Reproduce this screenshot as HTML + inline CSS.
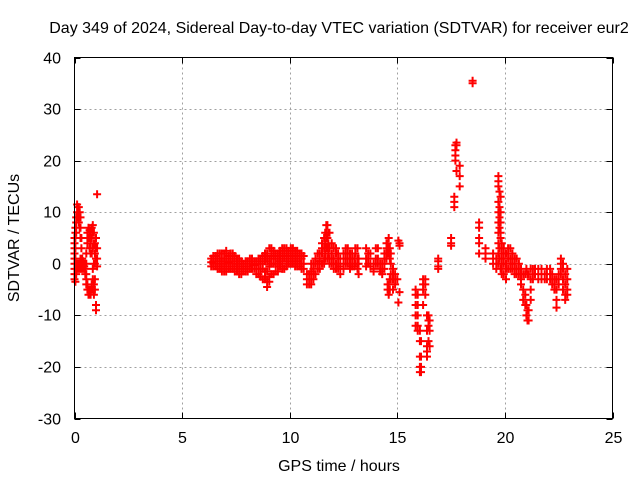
<!DOCTYPE html>
<html><head><meta charset="utf-8"><style>
body{margin:0;background:#fff}
svg text{font-family:"Liberation Sans",sans-serif;font-size:16px;fill:#000}
</style></head><body>
<svg id="chart" width="640" height="480" xmlns="http://www.w3.org/2000/svg">
<text x="339" y="33" text-anchor="middle">Day 349 of 2024, Sidereal Day-to-day VTEC variation (SDTVAR) for receiver eur2</text>
<text x="339" y="471" text-anchor="middle">GPS time / hours</text>
<text transform="translate(19,238) rotate(-90)" text-anchor="middle">SDTVAR / TECUs</text>
<g id="grid"></g>
<g id="ticks"></g>
<g id="pts"></g>
<rect x="74.5" y="57.5" width="538" height="361" fill="none" stroke="#000" stroke-width="1"/>
</svg>
<script>
const xTicks=[0,5,10,15,20,25];
const yTicks=[-30,-20,-10,0,10,20,30,40];
// groups: [hour, value, value, ...]
const groups=[
[0.0,-3,-2,-1,0,1,2,3,4,5],[0.04,-3.5,-2,-1,0,1,3,5,6,7],[0.08,-2,-1,0,8,6,7,9],[0.12,10,11.5,9,-1,0],[0.16,11,10,9,-1,0],[0.2,11,10,8,0,-1],[0.24,10,9,7,0,-1],[0.28,9,7,5,1,-1,0],[0.32,5,3,1,-1,0],[0.36,0,-1,1],[0.4,-1,0.5,0],[0.45,-0.5,-1,0],[0.5,-1,-2,0],[0.55,-2,-4,0,2,-3],[0.6,-5,4,6,5,-4],[0.65,-6,7,5,-5],[0.7,-6,6.5,5,3,-5],[0.75,-5,6,4,2,-6],[0.8,-4,7,5,2,-5],[0.85,-3,-5,7.5,6,-1,3],[0.9,-6,6,4,0,-4],[0.95,4,2,0,-5,-3],[1.0,3,5,-8,-9,1],[1.05,13.5,-0.5,1,3],
[6.35,1,0.3,-0.5],[6.45,1.5,0.5,-0.5,0],[6.55,1.5,0.5,-0.5,1],[6.65,2,1,0,-1],[6.75,2,0.5,-1,-0.5],[6.85,2,1,0,-1.5],[6.95,2,0.5,-0.5,-1.5],[7.05,2.5,1,0,-1.5],[7.15,1.5,0.3,-1,-0.5],[7.25,2,1,0,-1],[7.35,2,0.5,-0.5,-1],[7.45,1.5,0.5,0,-1.5],[7.55,1,0,-0.5,-1.5],[7.65,1,0,-1,-2],[7.75,0.5,-0.5,-1,-2],[7.85,0,-0.5,-1,-1.5],[7.95,0.5,0,-1,-1.5],[8.05,0.5,0,-0.5,-1.5],[8.15,1,0.5,0,-1],[8.25,1,0.5,0,-1],[8.35,0.5,0,-0.3,-1],[8.45,0.5,0,-1,-2],[8.55,1,0,-1,-2],[8.65,1,0,-1,-2.5],[8.75,1.5,0.5,-1,-3],[8.85,2,0.5,-1.5,-3],[8.95,2,0.5,-1.5,-3.5,-4.5],[9.05,3,1,-0.5,-2.5,-3.5],[9.15,3,1.5,0,-2],[9.25,2.5,1,0,-2],[9.35,2,1,0,-1.5],[9.45,2,1,0,-1.5],[9.55,2.5,1.5,0.5,-0.5],[9.65,3,1.5,0,-1],[9.75,3,2,1,-1],[9.85,3,2,1,-0.5],[9.95,2.5,1.5,0.5,0],[10.05,3,2,1,0],[10.15,3,2,1,0],[10.25,2.5,1.5,0.5,-0.5],[10.35,2.5,1.5,0.5,-0.5],[10.45,2,1,0,-0.5],[10.55,2,1,0,-1],[10.65,1.5,0,-1],
[10.8,-3,-4,-2],[10.9,-2,-4,-3],[11.0,0,-3,-1.5,-4],[11.1,0,-2,-1,-3],[11.2,1,-2,0],[11.3,2,0,-1],[11.4,2,-1,0.5,1],[11.5,4,2,0,3],[11.6,5,3,1,0],[11.65,6,4,1,2],[11.7,7.5,6,5,3],[11.75,7.5,5,3,1],[11.8,6,4,2],[11.85,6,3,1,0],[11.95,4,2,0,1],[12.05,3,1,-1,0],[12.15,3,2,0,-1],[12.25,2,0,-1,1],[12.35,1,-0.5,-2,0],
[12.5,2,0,-1,1],[12.6,3,1,0,2],[12.7,3,1,0,2],[12.8,2,0,-1,1],[12.9,2,1,-0.5],[13.0,1,-0.5,0],[13.05,3,2,0],[13.15,3,1,0,-1],[13.2,1,0,-2],
[13.55,3,1,-0.5],[13.65,2,1,0],[13.75,2,0,-0.5],[13.9,-1,0,-1.5],[14.0,3,1,0],[14.1,3,1,0],[14.2,-1,0,-1.5],[14.3,-2,-1,0],[14.4,2,0,-1,1],[14.5,4,2,1,3],[14.55,4,3,2,-4,-5],[14.6,5,3,2,-4,-5,-6],[14.65,3,1,-3,-5],[14.7,-3,-2,0,2],[14.8,-1,-5,-3,-2],[14.9,-3,-2,-4],
[15.0,-3],[15.05,4.5,-7.5],[15.1,3.5,4,-5.5],
[15.85,-5,-6,-8,-10,-12],[15.95,-6,-8,-10,-13,-12],[16.05,-15,-18,-20,-21,-13],[16.1,-15,-18,-20,-21],[16.2,-3,-5,-8,-4],[16.3,-4,-3,-6],[16.38,-10,-13,-16,-18,-17],[16.45,-10,-12,-15,-11],[16.5,-11,-16,-13],
[16.9,-0.5,-1,0.5,1],
[17.5,3.5,5,4],
[17.65,12,13,11],[17.7,22,23,21,20],[17.75,23.5,23,18],[17.9,19,17,15],
[18.5,35,35.5],
[18.8,8,7,5,4,2],[19.1,3,2,1],
[19.45,1,0,2],[19.6,1,-1,0],[19.7,17,16,15,12,10,8,6,4,2,0],[19.75,14,11,9,7,3,1],[19.8,13,10,8,6,5,-1],[19.85,4,3,2,1,0,-1,-2],[19.95,3,2,0,-2,1],
[20.05,-3,0,2,-1],[20.15,-1,1,3,2],[20.25,-1,1,3,0],[20.35,0,2,-1,1],[20.45,-1,1,0,-2],[20.55,-1,1,-2],[20.65,-2,-1,0],[20.75,-2,-1,-3,-4],[20.85,-5,-7,-2],[20.95,-6,-8,-2],[21.0,-8,-10,-1],[21.05,-9,-11,-2],[21.1,-11,-9,-2],[21.2,-7,-5,-1,-3],[21.3,-1,-2,-3],
[21.4,-1,-2],[21.55,-1,-2,-3],[21.7,-1,-2,-3],[21.85,-2,-3],[21.95,-2,-3,-1],[22.1,-2,-1,-3],[22.2,-3,-4,-2],[22.3,-3,-4,-5],[22.4,-7,-8.5,-3,-5],[22.5,-2,-4,-3],[22.6,0,1,-1,-2],[22.7,-1,-3,-5,0],[22.8,-6,-7,-2,-4],[22.9,-5,-3,-1,-6]
];
const X0=74.5,X1=612.5,Y0=418.5,Y1=57.5;
const sx=v=>X0+(v-0)/(25-0)*(X1-X0);
const sy=v=>Y0-(v+30)/(70)*(Y0-Y1);
const NS='http://www.w3.org/2000/svg';
const grid=document.getElementById('grid'),ticks=document.getElementById('ticks'),pts=document.getElementById('pts');
function mk(t,a,p){const e=document.createElementNS(NS,t);for(const k in a)e.setAttribute(k,a[k]);p.appendChild(e);return e;}
xTicks.forEach(t=>{const x=Math.round(sx(t))+0.5;
 if(t>0&&t<25){const g=mk('line',{x1:x,x2:x,y1:Y1,y2:Y0,stroke:'#a0a0a0','stroke-dasharray':'2,3'},grid);
 
 }
 const l=mk('text',{x:x,y:443,'text-anchor':'middle'},ticks);l.textContent=t;
 
 
 mk('line',{x1:x,x2:x,y1:Y0,y2:Y0-6,stroke:'#000'},ticks);mk('line',{x1:x,x2:x,y1:Y1,y2:Y1+6,stroke:'#000'},ticks);});
yTicks.forEach(t=>{const y=Math.round(sy(t))+0.5;
 if(t>-30&&t<40){const g=mk('line',{x1:X0,x2:X1,y1:y,y2:y,stroke:'#a0a0a0','stroke-dasharray':'2,3'},grid);
 
 }
 const l=mk('text',{x:61,y:y+5,'text-anchor':'end'},ticks);l.textContent=t;
 
 
 mk('line',{x1:X0,x2:X0+6,y1:y,y2:y,stroke:'#000'},ticks);mk('line',{x1:X1,x2:X1-6,y1:y,y2:y,stroke:'#000'},ticks);});
let d='';
groups.forEach(g=>{const x=sx(g[0]);for(let i=1;i<g.length;i++){const y=sy(g[i]);
 d+=`M${(x-4).toFixed(1)} ${y.toFixed(1)}h8M${x.toFixed(1)} ${(y-4).toFixed(1)}v8`;}});
const p=mk('path',{d:d,stroke:'#ff0000','stroke-width':'2',fill:'none'},pts);


</script>
</body></html>
